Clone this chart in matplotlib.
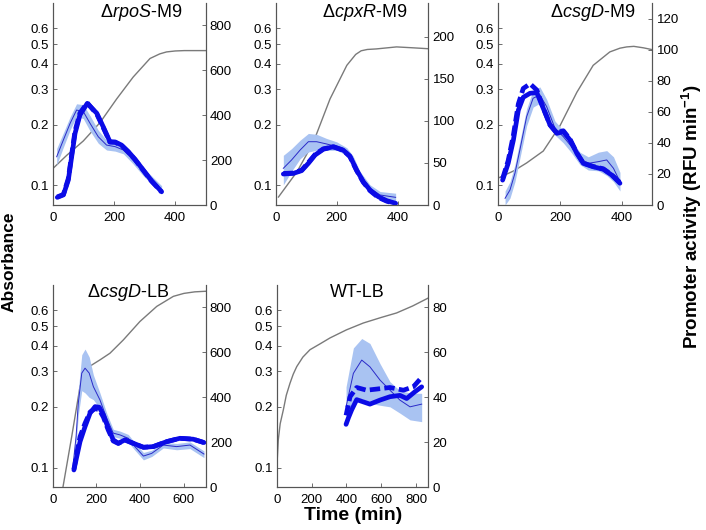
import numpy as np
import matplotlib
matplotlib.use("Agg")
import matplotlib.pyplot as plt
from matplotlib.ticker import FixedLocator, FixedFormatter, NullLocator

plt.rcParams['font.family'] = ['Liberation Sans', 'DejaVu Sans']
plt.rcParams['mathtext.fontset'] = 'custom'
plt.rcParams['mathtext.rm'] = 'Liberation Sans'
plt.rcParams['mathtext.it'] = 'Liberation Sans:italic'
plt.rcParams['mathtext.bf'] = 'Liberation Sans:bold'

# ---- panel titles / axes ----
titles = [r'$\Delta\mathit{rpoS}$-M9', r'$\Delta\mathit{cpxR}$-M9', r'$\Delta\mathit{csgD}$-M9',
          r'$\Delta\mathit{csgD}$-LB', 'WT-LB']
xmax = [500, 500, 500, 700, 870]
xticks = [[0, 200, 400], [0, 200, 400], [0, 200, 400], [0, 200, 400, 600], [0, 200, 400, 600, 800]]
rmax = [900, 240, 130, 900, 90]
rticks = [[0, 200, 400, 600, 800], [0, 50, 100, 150, 200], [0, 20, 40, 60, 80, 100, 120],
          [0, 200, 400, 600, 800], [0, 20, 40, 60, 80]]
abs_ticks = [0.1, 0.2, 0.3, 0.4, 0.5, 0.6]

# ---- absorbance (grey, left log axis) ----
rpos_abs_t = [0, 46, 100, 155, 209, 263, 318, 350, 372, 400, 430, 460, 500]
rpos_abs = [0.121, 0.141, 0.166, 0.205, 0.268, 0.344, 0.425, 0.448, 0.458, 0.463, 0.465, 0.465, 0.465]
cpxr_abs_t = [9, 70, 123, 178, 233, 262, 280, 300, 330, 396, 450, 500]
cpxr_abs = [0.0876, 0.117, 0.163, 0.268, 0.393, 0.445, 0.464, 0.471, 0.474, 0.485, 0.480, 0.475]
csgd_abs_t = [0, 50, 92, 146, 200, 255, 308, 362, 395, 417, 440, 471, 500]
csgd_abs = [0.1088, 0.118, 0.1292, 0.148, 0.197, 0.289, 0.393, 0.458, 0.478, 0.485, 0.488, 0.48, 0.47]
csgdlb_abs_t = [45, 87, 125, 145, 165, 216, 262, 323, 399, 476, 552, 600, 650, 700]
csgdlb_abs = [0.078, 0.1425, 0.252, 0.29, 0.315, 0.341, 0.368, 0.428, 0.528, 0.627, 0.703, 0.727, 0.740, 0.745]
wt_abs_t = [0, 9, 20, 38, 55, 76, 95, 115, 150, 191, 250, 306, 400, 497, 600, 688, 780, 870]
wt_abs = [0.0975, 0.137, 0.165, 0.193, 0.228, 0.261, 0.29, 0.316, 0.352, 0.383, 0.41, 0.438, 0.48, 0.519,
          0.553, 0.582, 0.63, 0.69]

# ---- promoter activity (blue, right axis) ----
rpos_t = [15, 35, 51, 62, 73, 89, 113, 144, 165, 187, 204, 225, 247, 269, 296, 323, 356]
rpos_solid = [34, 45, 111, 215, 319, 401, 453, 409, 349, 282, 281, 267, 238, 204, 156, 108, 59]
rpos_dash = [36, 47, 118, 225, 330, 410, 455, 405, 345, 280, 279, 265, 236, 202, 154, 106, 58]
rpos_thin_t = [13, 35, 57, 78, 100, 122, 149, 176, 204, 231, 263, 296, 329, 356]
rpos_thin = [215, 290, 364, 423, 416, 364, 304, 267, 260, 245, 200, 148, 104, 67]
rpos_lo = [178, 258, 335, 395, 385, 330, 275, 245, 240, 228, 183, 130, 86, 48]
rpos_hi = [252, 322, 393, 451, 447, 398, 333, 289, 280, 262, 217, 166, 122, 86]

cpxr_t = [25, 58, 85, 107, 129, 156, 189, 221, 243, 265, 287, 309, 336, 364, 393]
cpxr_solid = [36.8, 37.6, 40.8, 49.5, 59.4, 66.2, 69.3, 65.3, 58.2, 41.6, 27.7, 17.8, 9.9, 5.1, 2]
cpxr_dash = [37.5, 38.0, 41.5, 50.5, 60.0, 66.8, 69.0, 65.0, 57.5, 41.0, 27.0, 17.0, 9.0, 4.5, 1.5]
cpxr_thin_t = [25, 52, 80, 107, 134, 167, 200, 233, 254, 276, 309, 342, 393]
cpxr_thin = [43.6, 53.5, 65.3, 75.2, 75.2, 72.5, 69.3, 63.3, 53.5, 35.6, 19.8, 11.9, 9.1]
cpxr_lo = [24, 40, 55, 63, 65, 65, 65, 59, 49, 31, 15, 7, 4]
cpxr_hi = [59, 67, 77, 85, 84, 79, 75, 68, 58, 40, 24, 16, 14]

csgd_t = [14, 32, 49, 65, 81, 103, 125, 146, 168, 190, 211, 233, 255, 276, 308, 341, 368, 395]
csgd_solid = [16, 26.8, 41.8, 61, 69.3, 71.9, 72.3, 62.2, 51.5, 46.1, 47.2, 41.8, 33.3, 26.8, 24.6, 23, 19.3, 14]
csgd_dash = [17, 28.5, 45, 65, 75, 78, 74, 62.5, 51.5, 46.5, 47.8, 42.3, 33.5, 27, 24.8, 23.3, 19.5, 14.5]
csgd_thin_t = [22, 38, 54, 70, 92, 113, 135, 157, 184, 211, 238, 265, 292, 325, 352, 374, 395]
csgd_thin = [4.3, 9.7, 20.4, 35.4, 56.8, 68.7, 70.8, 63.3, 49.4, 44, 37.5, 30, 26.8, 27.9, 29, 23.6, 15]
csgd_lo = [0, 4.5, 15, 30, 51, 63, 65.5, 58, 45, 40, 33.5, 26, 22.5, 22, 19, 15, 9]
csgd_hi = [9, 15, 26, 41, 62, 74, 76, 68, 54, 48, 41.5, 34, 31, 34, 35, 31, 21]

csgdlb_t = [97, 110, 125, 148, 171, 194, 213, 232, 254, 277, 300, 331, 369, 415, 460, 521, 582, 643, 692]
csgdlb_solid = [77, 136, 203, 270, 330, 359, 356, 322, 263, 211, 196, 211, 196, 178, 181, 203, 218, 214, 199]
csgdlb_dash = [80, 150, 225, 285, 335, 350, 345, 312, 255, 206, 195, 210, 195, 178, 181, 203, 218, 214, 199]
csgdlb_thin_t = [94, 107, 117, 133, 148, 167, 186, 216, 247, 277, 308, 346, 376, 415, 453, 506, 567, 628, 692]
csgdlb_thin = [107, 226, 374, 508, 530, 508, 448, 389, 307, 241, 233, 218, 181, 139, 151, 188, 181, 188, 148]
csgdlb_lo = [95, 190, 320, 430, 420, 400, 390, 350, 285, 225, 218, 200, 165, 122, 137, 175, 167, 172, 132]
csgdlb_hi = [120, 260, 430, 590, 615, 580, 500, 420, 330, 258, 250, 235, 198, 155, 165, 200, 195, 202, 162]

wt_t = [398, 412, 430, 459, 497, 535, 593, 650, 707, 746, 793, 832]
wt_solid = [28, 31, 34.4, 39, 38, 37, 38.8, 40.3, 40.9, 39.5, 42.5, 44.7]
wt_dash_t = [398, 421, 459, 516, 574, 650, 727, 784, 832]
wt_dash = [32, 40.3, 44.4, 43.2, 43.7, 44.4, 43.2, 44.7, 48.9]
wt_thin_t = [398, 440, 488, 535, 593, 650, 707, 765, 832]
wt_thin = [35.8, 50.7, 56.6, 53.6, 47.7, 43.2, 38.8, 35.8, 37]
wt_lo = [31.6, 37, 39.5, 37.3, 36.5, 35.8, 33, 30, 29.2]
wt_hi = [44.7, 62, 66.2, 64, 55, 47, 43, 42, 41.8]

panels = [
    (rpos_abs_t, rpos_abs, rpos_t, rpos_solid, rpos_t, rpos_dash, rpos_thin_t, rpos_thin, rpos_lo, rpos_hi),
    (cpxr_abs_t, cpxr_abs, cpxr_t, cpxr_solid, cpxr_t, cpxr_dash, cpxr_thin_t, cpxr_thin, cpxr_lo, cpxr_hi),
    (csgd_abs_t, csgd_abs, csgd_t, csgd_solid, csgd_t, csgd_dash, csgd_thin_t, csgd_thin, csgd_lo, csgd_hi),
    (csgdlb_abs_t, csgdlb_abs, csgdlb_t, csgdlb_solid, csgdlb_t, csgdlb_dash, csgdlb_thin_t, csgdlb_thin,
     csgdlb_lo, csgdlb_hi),
    (wt_abs_t, wt_abs, wt_t, wt_solid, wt_dash_t, wt_dash, wt_thin_t, wt_thin, wt_lo, wt_hi),
]

# axes boxes in pixels (left, top, width, height)
W, H = 706, 530
boxes = [(52.7, 3, 153, 202), (275.7, 3, 152.6, 202), (498.3, 3, 154, 202),
         (52.7, 285, 153, 202.3), (276.7, 285, 151.6, 202.3)]
title_x = [0.577, 0.585, 0.61, 0.49, 0.53]

grey = '#7a7a7a'
blue = '#0b0be6'
navy = '#2a2ac8'
band = '#a9c3f2'
spine_c = '#555555'

fig = plt.figure(figsize=(W / 100, H / 100), dpi=100)

for i, p in enumerate(panels):
    at, aval, st, sv, dt, dv, tt, tv, lo, hi = p
    l, t, w, h = boxes[i]
    ax = fig.add_axes([l / W, (H - t - h) / H, w / W, h / H])
    ax2 = ax.twinx()

    ax.plot(at, aval, color=grey, lw=1.0)
    ax.set_yscale('log')
    ax.set_ylim(0.08, 0.8)
    ax.yaxis.set_major_locator(FixedLocator(abs_ticks))
    ax.yaxis.set_major_formatter(FixedFormatter([str(v) for v in abs_ticks]))
    ax.yaxis.set_minor_locator(NullLocator())
    ax.set_xlim(0, xmax[i])
    ax.set_xticks(xticks[i])

    ax2.fill_between(tt, lo, hi, color=band, lw=0)
    ax2.plot(tt, tv, color=navy, lw=0.7)
    ax2.plot(st, sv, color=blue, lw=3.4, solid_capstyle='round')
    ax2.plot(dt, dv, color=blue, lw=3.4, dashes=(2.2, 0.9))
    ax2.set_ylim(0, rmax[i])
    ax2.set_yticks(rticks[i])
    ax2.set_xlim(0, xmax[i])

    for a in (ax, ax2):
        a.spines['top'].set_visible(False)
        for s in ('left', 'right', 'bottom'):
            a.spines[s].set_color(spine_c)
            a.spines[s].set_linewidth(0.8)
        a.tick_params(direction='in', length=3, width=0.6, color=spine_c, labelsize=9.5, pad=3)
        a.patch.set_visible(False)
    ax.tick_params(axis='x', pad=5)

    ty = 0.955 if i < 3 else 0.962
    ax.text(title_x[i], ty, titles[i], transform=ax.transAxes, ha='center', va='center', fontsize=13)

fig.text(9 / W, (H - 262) / H, 'Absorbance', rotation=90, ha='center', va='center',
         fontsize=12.5, fontweight='bold')
fig.text(692 / W, (H - 217) / H, r'Promoter activity (RFU min$^{\mathbf{-1}}$)', rotation=90,
         ha='center', va='center', fontsize=13.5, fontweight='bold')
fig.text(353 / W, (H - 516) / H, 'Time (min)', ha='center', va='center', fontsize=14, fontweight='bold')

fig.savefig('out.png', dpi=100)
